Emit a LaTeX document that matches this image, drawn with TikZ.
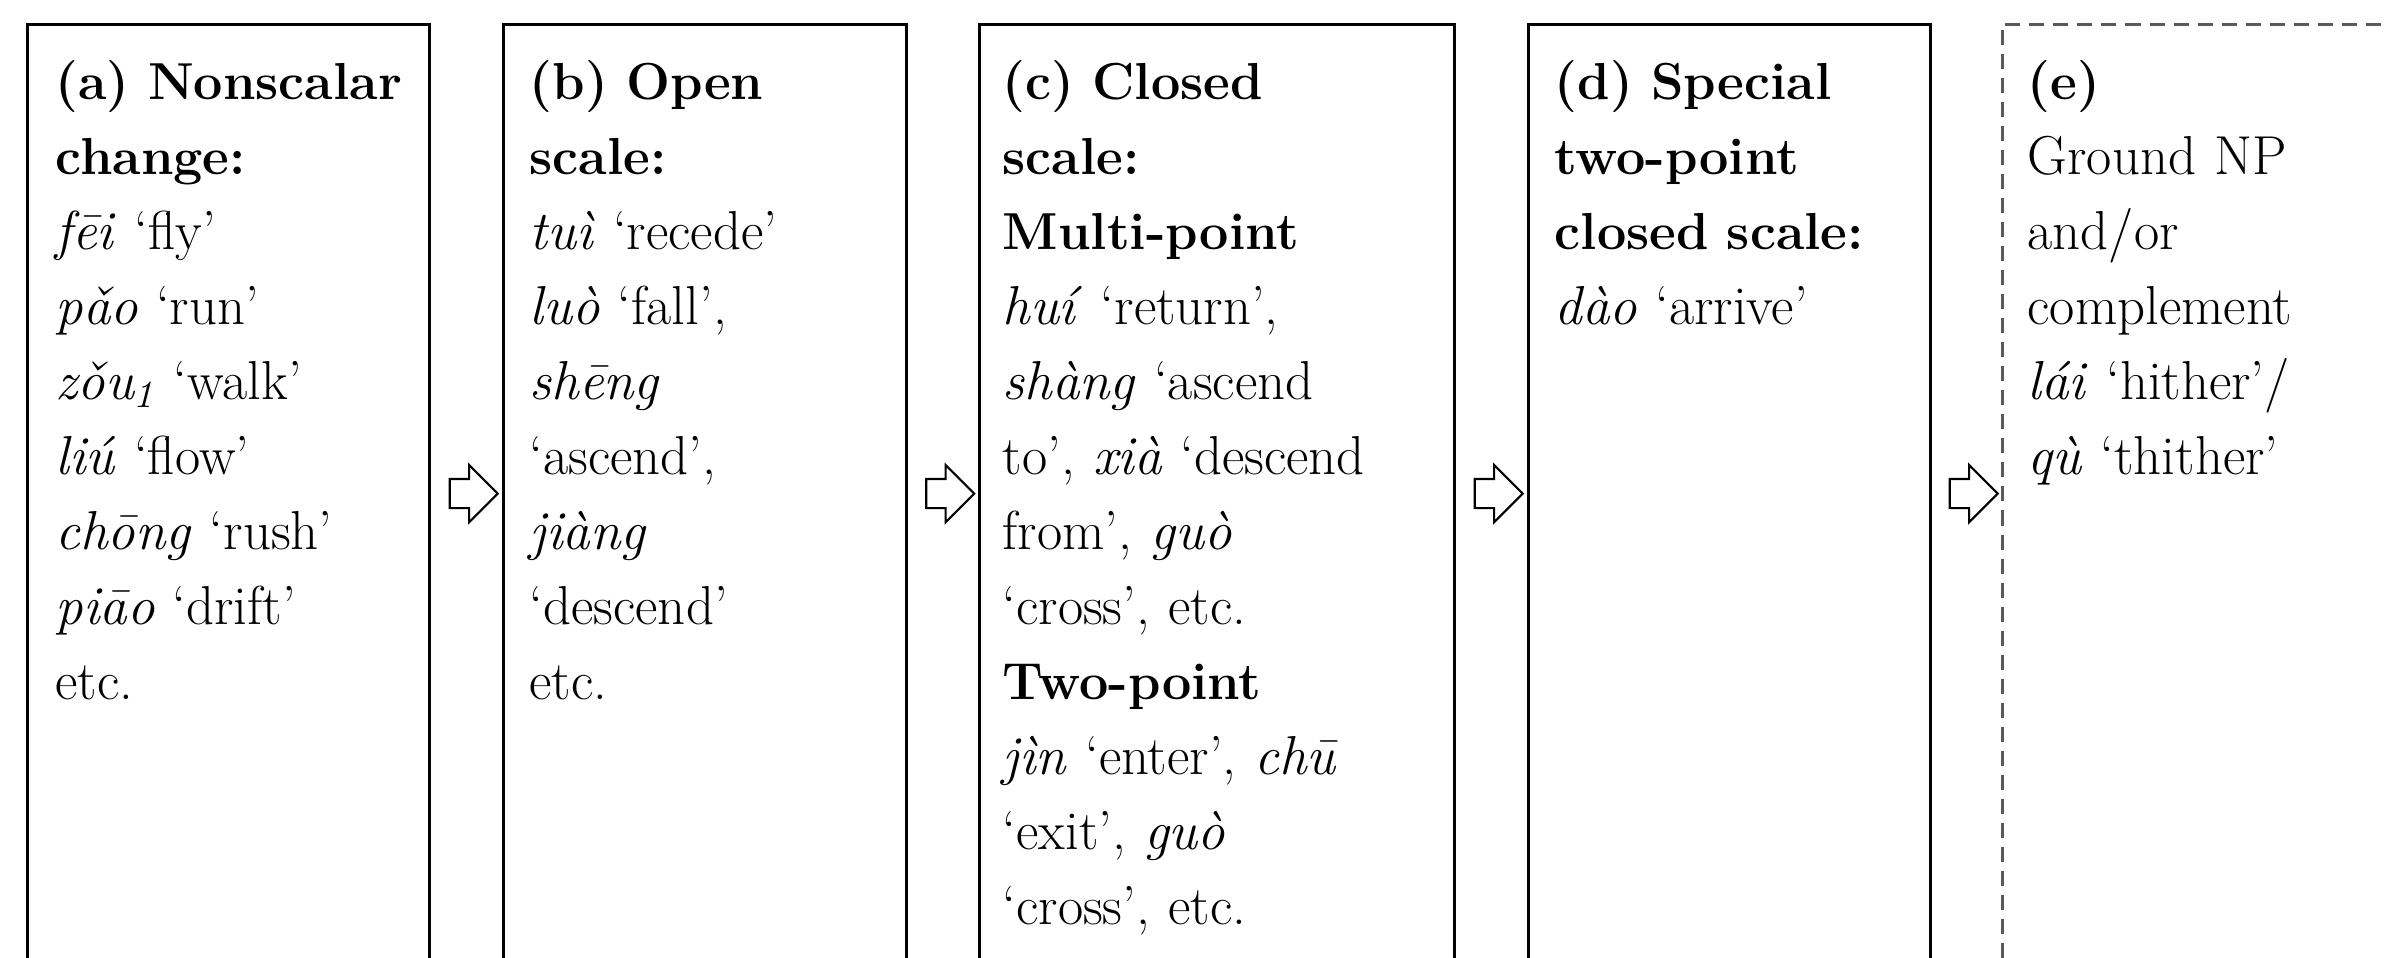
\documentclass[tikz,border=0pt]{standalone}
\usepackage{fontspec}
\usetikzlibrary{shapes.arrows,calc}
% bold headings are set a little smaller than the running text
\newcommand{\hd}[1]{{\fontsize{14.8}{21.34}\selectfont\bfseries #1}}
\begin{document}
\begin{tikzpicture}[x=0.01cm,y=-0.01cm,
  panel/.style={draw, line width=0.75pt, anchor=north west, minimum height=9.38cm, inner sep=0pt},
  openpanel/.style={panel, draw=black!65, dash pattern=on 0.15cm off 0.09cm},
  entry/.style={anchor=base west, align=left, inner sep=0pt, text width=4.4cm,
    font=\fontsize{15.6}{21.34}\selectfont},
  flowarrow/.style={single arrow, draw, line width=0.6pt, fill=white,
    minimum height=0.48cm, minimum width=0.55cm, single arrow head extend=0.14cm,
    single arrow head indent=0pt, inner xsep=0pt, inner ysep=0.135cm}]
\useasboundingbox (0,0) rectangle (2387,957);

% panels, open at the bottom edge
\node[panel, minimum width=4.02cm] (a) at (26,23) {};
\node[panel, minimum width=4.03cm] (b) at (502,23) {};
\node[panel, minimum width=4.75cm] (c) at (978,23) {};
\node[panel, minimum width=4.02cm] (d) at (1527,23) {};
\node[openpanel, minimum width=5cm] (e) at (2001,23) {};

% block arrows between the panels
\node[flowarrow] (ab) at ($(a.east)!0.5!(b.west)$) {};
\node[flowarrow] (bc) at ($(b.east)!0.5!(c.west)$) {};
\node[flowarrow] (cd) at ($(c.east)!0.5!(d.west)$) {};
\node[flowarrow] (de) at ($(d.east)!0.5!(e.west)$) {};

% panel texts
\node[entry] (ta) at (55,99) {\hd{(a) Nonscalar}\\
\hd{change:}\\
\textit{fēi} ‘fly’\\
\textit{pǎo} ‘run’\\
\textit{zǒu\textsubscript{1}} ‘walk’\\
\textit{liú} ‘flow’\\
\textit{chōng} ‘rush’\\
\textit{piāo} ‘drift’\\
etc.};

\node[entry] (tb) at (529,99) {\hd{(b) Open}\\
\hd{scale:}\\
\textit{tuì} ‘recede’\\
\textit{luò} ‘fall’,\\
\textit{shēng}\\
‘ascend’,\\
\textit{jiàng}\\
‘descend’\\
etc.};

\node[entry] (tc) at (1002,99) {\hd{(c) Closed}\\
\hd{scale:}\\
\hd{Multi-point}\\
\textit{huí} ‘return’,\\
\textit{shàng} ‘ascend\\
to’, \textit{xià} ‘descend\\
from’, \textit{guò}\\
‘cross’, etc.\\
\hd{Two-point}\\
\textit{jìn} ‘enter’, \textit{chū}\\
‘exit’, \textit{guò}\\
‘cross’, etc.};

\node[entry] (td) at (1554,99) {\hd{(d) Special}\\
\hd{two-point}\\
\hd{closed scale:}\\
\textit{dào} ‘arrive’};

\node[entry] (te) at (2027,99) {\hd{(e)}\\
Ground NP\\
and/or\\
complement\\
\textit{lái} ‘hither’/\\
\textit{qù} ‘thither’};
\end{tikzpicture}
\end{document}
